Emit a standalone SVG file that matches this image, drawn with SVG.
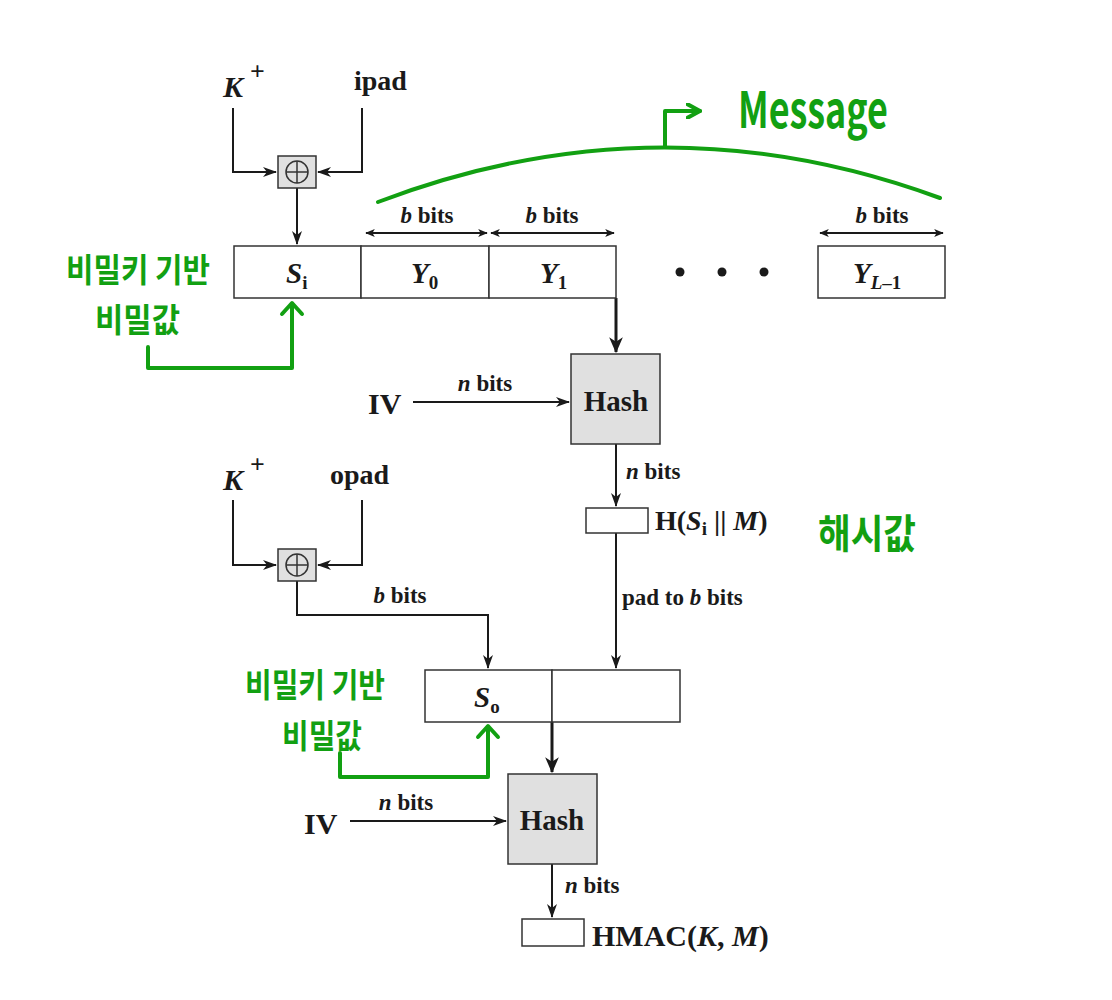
<svg xmlns="http://www.w3.org/2000/svg" width="1112" height="1000" viewBox="0 0 1112 1000">
<defs>
<marker id="ah" viewBox="0 0 14 10" refX="13" refY="5" markerWidth="14" markerHeight="10" markerUnits="userSpaceOnUse" orient="auto"><path d="M0,0 L14,5 L0,10 L4,5 Z" fill="#1a1a1a"/></marker>
<marker id="ahs" viewBox="0 0 12 10" refX="11" refY="5" markerWidth="12" markerHeight="8" markerUnits="userSpaceOnUse" orient="auto-start-reverse"><path d="M0,0 L12,5 L0,10 L3,5 Z" fill="#1a1a1a"/></marker>
<marker id="ahb" viewBox="0 0 14 12" refX="13" refY="6" markerWidth="16" markerHeight="14" markerUnits="userSpaceOnUse" orient="auto"><path d="M0,0 L14,6 L0,12 L4,6 Z" fill="#1a1a1a"/></marker>
<marker id="gh" viewBox="0 0 14 14" refX="12" refY="7" markerWidth="16" markerHeight="16" markerUnits="userSpaceOnUse" orient="auto"><path d="M1,1 L12,7 L1,13" fill="none" stroke="#12a012" stroke-width="3.5" stroke-linecap="round" stroke-linejoin="round"/></marker>
</defs>
<style>
.t{font-family:"Liberation Serif",serif;font-weight:bold;fill:#1a1a1a}
.box{fill:#fff;stroke:#333;stroke-width:1.5}
.hash{fill:#e0e0e0;stroke:#333;stroke-width:1.5}
.ln{fill:none;stroke:#1a1a1a;stroke-width:2}
.lnb{fill:none;stroke:#1a1a1a;stroke-width:3}
.g{fill:none;stroke:#12a012;stroke-width:4;stroke-linecap:round;stroke-linejoin:round}
.gt{font-family:"Noto Sans CJK KR","Noto Sans",sans-serif;font-weight:bold;fill:#12a012}
</style>
<rect width="1112" height="1000" fill="#fff"/>

<g id="connectors">
<path class="ln" d="M233,108 V172 H276" marker-end="url(#ah)"/>
<path class="ln" d="M362,108 V172 H318" marker-end="url(#ah)"/>
<path class="ln" d="M297,188 V244" marker-end="url(#ah)"/>
<path class="ln" d="M366,233 H487" marker-start="url(#ahs)" marker-end="url(#ahs)" stroke-width="1.5"/>
<path class="ln" d="M491,233 H614" marker-start="url(#ahs)" marker-end="url(#ahs)" stroke-width="1.5"/>
<path class="ln" d="M820,233 H943" marker-start="url(#ahs)" marker-end="url(#ahs)" stroke-width="1.5"/>
<path class="lnb" d="M616,298 V352" marker-end="url(#ahb)"/>
<path class="ln" d="M413,402 H569" marker-end="url(#ah)" stroke-width="2.5"/>
<path class="ln" d="M616,444 V506" marker-end="url(#ah)"/>
<path class="ln" d="M616,533 V668" marker-end="url(#ah)"/>
<path class="ln" d="M233,500 V565 H276" marker-end="url(#ah)"/>
<path class="ln" d="M362,500 V565 H318" marker-end="url(#ah)"/>
<path class="ln" d="M297,581 V615 H488 V668" marker-end="url(#ah)"/>
<path class="lnb" d="M552,722 V772" marker-end="url(#ahb)"/>
<path class="ln" d="M350,821 H506" marker-end="url(#ah)" stroke-width="2.5"/>
<path class="ln" d="M552,864 V917" marker-end="url(#ah)"/>
</g>

<g id="xor1">
<rect x="278" y="156" width="38" height="32" fill="#e0e0e0" stroke="#333" stroke-width="1.5"/>
<circle cx="297" cy="172" r="11" fill="none" stroke="#333" stroke-width="1.5"/>
<path d="M286,172 H308 M297,161 V183" stroke="#333" stroke-width="1.5"/>
</g>
<g id="kplus1"><text class="t" x="223" y="97" font-size="30" font-style="italic">K</text><text class="t" x="250" y="80" font-size="26">+</text></g>
<g id="ipad"><text class="t" x="354" y="90" font-size="28">ipad</text></g>

<g id="row1">
<rect class="box" x="234" y="246" width="127" height="52"/>
<rect class="box" x="361" y="246" width="128" height="52"/>
<rect class="box" x="489" y="246" width="127" height="52"/>
<rect class="box" x="818" y="246" width="127" height="52"/>
<text class="t" x="286" y="283" font-size="29" font-style="italic">S<tspan font-style="normal" font-size="19" dy="6">i</tspan></text>
<text class="t" x="411" y="283" font-size="29" font-style="italic">Y<tspan font-style="normal" font-size="19" dy="6">0</tspan></text>
<text class="t" x="540" y="283" font-size="29" font-style="italic">Y<tspan font-style="normal" font-size="19" dy="6">1</tspan></text>
<text class="t" x="853" y="283" font-size="29" font-style="italic">Y<tspan font-size="19" dy="6">L</tspan><tspan font-style="normal" font-size="19">–1</tspan></text>
<circle cx="680" cy="272" r="4.5" fill="#1a1a1a"/>
<circle cx="722" cy="272" r="4.5" fill="#1a1a1a"/>
<circle cx="764" cy="272" r="4.5" fill="#1a1a1a"/>
<text class="t" x="427" y="223" font-size="23" text-anchor="middle"><tspan font-style="italic">b</tspan> bits</text>
<text class="t" x="552" y="223" font-size="23" text-anchor="middle"><tspan font-style="italic">b</tspan> bits</text>
<text class="t" x="882" y="223" font-size="23" text-anchor="middle"><tspan font-style="italic">b</tspan> bits</text>
</g>

<g id="message">
<path class="g" d="M378,202 Q660,95 940,198"/>
<path class="g" d="M665,146 V111 H700" marker-end="url(#gh)"/>
<text class="gt" x="738" y="128" font-size="50" font-weight="normal" textLength="150" lengthAdjust="spacingAndGlyphs" font-family="'Noto Sans',sans-serif">Message</text>
</g>

<g id="note1">
<text class="gt" x="66" y="282" font-size="33" textLength="144" lengthAdjust="spacingAndGlyphs">비밀키 기반</text>
<text class="gt" x="95" y="332" font-size="33" textLength="85" lengthAdjust="spacingAndGlyphs">비밀값</text>
<path class="g" d="M148,347 V368 H292 V304"/>
<path class="g" d="M282,314 L292,303 L302,314"/>
</g>

<g id="hash1">
<rect class="hash" x="571" y="354" width="89" height="90"/>
<text class="t" x="616" y="411" font-size="29" text-anchor="middle">Hash</text>
</g>
<g id="iv1"><text class="t" x="368" y="414" font-size="30">IV</text>
<text class="t" x="485" y="391" font-size="23" text-anchor="middle"><tspan font-style="italic">n</tspan> bits</text></g>
<text class="t" x="626" y="479" font-size="23"><tspan font-style="italic">n</tspan> bits</text>

<g id="inner">
<rect class="box" x="586" y="508" width="62" height="25"/>
<text class="t" x="655" y="530" font-size="28">H(<tspan font-style="italic">S</tspan><tspan font-size="19" dy="5">i</tspan><tspan dy="-5"> || </tspan><tspan font-style="italic">M</tspan>)</text>
</g>
<g id="note-hash"><text class="gt" x="818" y="548" font-size="40" textLength="98" lengthAdjust="spacingAndGlyphs">해시값</text></g>
<text class="t" x="622" y="605" font-size="23">pad to <tspan font-style="italic">b</tspan> bits</text>

<g id="xor2">
<rect x="278" y="549" width="38" height="32" fill="#e0e0e0" stroke="#333" stroke-width="1.5"/>
<circle cx="297" cy="565" r="11" fill="none" stroke="#333" stroke-width="1.5"/>
<path d="M286,565 H308 M297,554 V576" stroke="#333" stroke-width="1.5"/>
</g>
<g id="kplus2"><text class="t" x="223" y="490" font-size="30" font-style="italic">K</text><text class="t" x="250" y="473" font-size="26">+</text></g>
<g id="opad"><text class="t" x="330" y="484" font-size="28">opad</text></g>
<text class="t" x="400" y="603" font-size="23" text-anchor="middle"><tspan font-style="italic">b</tspan> bits</text>

<g id="row2">
<rect class="box" x="425" y="670" width="127" height="52"/>
<rect class="box" x="552" y="670" width="128" height="52"/>
<text class="t" x="474" y="707" font-size="29" font-style="italic">S<tspan font-style="normal" font-size="19" dy="6">o</tspan></text>
</g>

<g id="note2">
<text class="gt" x="245" y="697" font-size="33" textLength="140" lengthAdjust="spacingAndGlyphs">비밀키 기반</text>
<text class="gt" x="282" y="748" font-size="33" textLength="80" lengthAdjust="spacingAndGlyphs">비밀값</text>
<path class="g" d="M340,753 V777 H488 V727"/>
<path class="g" d="M478,737 L488,726 L498,737"/>
</g>

<g id="hash2">
<rect class="hash" x="508" y="774" width="89" height="90"/>
<text class="t" x="552" y="830" font-size="29" text-anchor="middle">Hash</text>
</g>
<g id="iv2"><text class="t" x="304" y="834" font-size="30">IV</text>
<text class="t" x="406" y="810" font-size="23" text-anchor="middle"><tspan font-style="italic">n</tspan> bits</text></g>
<text class="t" x="565" y="893" font-size="23"><tspan font-style="italic">n</tspan> bits</text>

<g id="hmac">
<rect class="box" x="522" y="919" width="62" height="27"/>
<text class="t" x="592" y="946" font-size="30">HMAC(<tspan font-style="italic">K</tspan>, <tspan font-style="italic">M</tspan>)</text>
</g>
</svg>
